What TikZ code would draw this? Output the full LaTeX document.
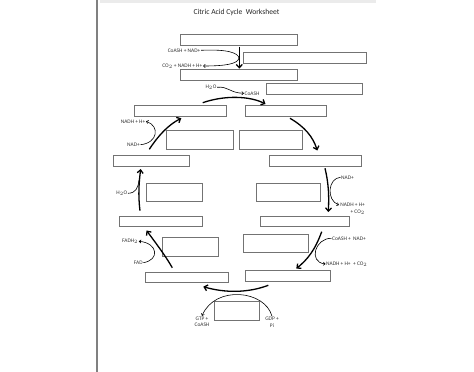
\documentclass[tikz,border=0pt]{standalone}
\usepackage{fontspec}
\setmainfont{Carlito}
\usetikzlibrary{arrows.meta}
\tikzset{
  box/.style={draw=black!55,line width=0.8pt,inner sep=0pt,outer sep=0pt,anchor=north west},
  main/.style={line width=1.3pt,-{Straight Barb[length=3.2pt,width=6pt]}},
  side/.style={line width=0.6pt,-{Straight Barb[length=1.8pt,width=3.2pt]}},
  sideplain/.style={line width=0.6pt},
  lbl/.style={font=\fontsize{5.4}{6.6}\selectfont,text=black!80,inner sep=0.5pt},
}
\newcommand\bx[5]{\node[box,minimum width=#4pt,minimum height=#5pt] (#1) at (#2,#3) {};}
\begin{document}
\begin{tikzpicture}[x=1pt,y=-1pt]
\useasboundingbox (0,0) rectangle (474,372);
\fill[white] (0,0) rectangle (474,372);
% page edge
\fill[black!8] (100,0) rectangle (376,3);
\draw[black!50,line width=1.2pt] (97,0) -- (97,372);
% title
\node[font=\fontsize{7.6}{9}\selectfont,text=black!85] (title) at (236.5,12) {Citric Acid Cycle\ \ Worksheet};
% boxes
\bx{b1}{180.7}{34}{117}{11}
\bx{b2}{243.3}{52.7}{123}{11}
\bx{b3}{180.7}{69}{117}{11}
\bx{b4}{266}{83.7}{96}{10.6}
\bx{b5}{134.3}{105.7}{92}{10.6}
\bx{b6}{245.7}{105.7}{80.6}{10.6}
\bx{b7}{166.7}{130.7}{66.6}{18.3}
\bx{b8}{239.3}{130.7}{63.4}{18.3}
\bx{b9}{113.3}{155.3}{76.4}{10.7}
\bx{b10}{269.3}{155.3}{92}{10.7}
\bx{b11}{146.3}{183}{55.7}{18.7}
\bx{b12}{256.7}{183}{63.6}{18.7}
\bx{b13}{119.7}{216}{82.6}{10.7}
\bx{b14}{260.7}{216}{89}{10.7}
\bx{b15}{162}{237.3}{56.3}{18.7}
\bx{b16}{243.3}{234.3}{64.7}{18.4}
\bx{b17}{145.7}{272}{82.3}{10.7}
\bx{b18}{245.7}{270.7}{84.6}{11}
\bx{b19}{214.7}{301.3}{44.6}{18.7}
% labels
\node[lbl,anchor=east] (t1) at (201,50.3) {CoASH + NAD+};
\node[lbl,anchor=east] (t2) at (203,66) {CO$_2$ + NADH + H+};
\node[lbl] (t3) at (211,87.3) {H$_2$O};
\node[lbl,anchor=west] (t4) at (244,93.3) {CoASH};
\node[lbl,anchor=east] (t5) at (146,121.3) {NADH + H+};
\node[lbl,anchor=east] (t6) at (140.5,144.7) {NAD+};
\node[lbl,anchor=east] (t7) at (128,193.3) {H$_2$O};
\node[lbl,anchor=west] (t8) at (340.5,177.3) {NAD+};
\node[lbl,anchor=north east,align=right] (t9) at (365.5,202.3) {NADH + H+\\+ CO$_2$};
\coordinate (t9a) at (339,205);
\node[lbl,anchor=east] (t10) at (138.8,241.3) {FADH$_2$};
\node[lbl,anchor=east] (t11) at (143.3,262.7) {FAD};
\node[lbl,anchor=west] (t12) at (331.5,238.3) {CoASH +\ \ NAD+};
\node[lbl,anchor=west] (t13) at (325.5,264) {NADH + H+\ \ + CO$_2$};
\node[lbl,align=center] (t14) at (202,321.7) {GTP +\\CoASH};
\node[lbl,align=center] (t15) at (272,322) {GDP +\\Pi};
% main arrow end points
\coordinate (a1s) at (239.3,46.5);  \coordinate (a1e) at (239.3,68.6);
\coordinate (a2s) at (202.7,102.7); \coordinate (a2e) at (265.5,104);
\coordinate (a3s) at (290,118.3);   \coordinate (a3e) at (317.3,150.5);
\coordinate (a4s) at (325,168.3);   \coordinate (a4e) at (328.3,212);
\coordinate (a5s) at (321.7,231.7); \coordinate (a5e) at (296.3,268.6);
\coordinate (a6s) at (268.3,285.3); \coordinate (a6e) at (203.3,286.7);
\coordinate (a7s) at (172.3,267.7); \coordinate (a7e) at (146.5,230.5);
\coordinate (a8s) at (140,210.7);   \coordinate (a8e) at (140.7,169);
\coordinate (a9s) at (149.3,149.3); \coordinate (a9e) at (181.3,118.2);
% main arrows
\draw[main] (a1s) -- (a1e);
\draw[main] (a2s) .. controls (225,95) and (250,96) .. (a2e);
\draw[main] (a3s) .. controls (305,127) and (313,137) .. (a3e);
\draw[main] (a4s) .. controls (329,185) and (329,198) .. (a4e);
\draw[main] (a5s) .. controls (315,250) and (308,259) .. (a5e);
\draw[main] (a6s) .. controls (248,293) and (225,293) .. (a6e);
\draw[main] (a7s) .. controls (165,255) and (155,242) .. (a7e);
\draw[main] (a8s) .. controls (138,195) and (139,182) .. (a8e);
\draw[main] (a9s) .. controls (158,136) and (168,125) .. (a9e);
% side reactions
\draw[side] (t1.east) .. controls (228,49) and (238,53) .. (239,58)
   .. controls (238,64) and (225,66) .. (t2.east);
\draw[side] (t3.east) .. controls (228,86) and (230,93) .. (t4.west);
\draw[side] (t6.east) .. controls (158,143) and (160,126) .. (t5.east);
\draw[sideplain] (t7.east) .. controls (136,193) and (138,188) .. (139,180);
\draw[side] (t8.west) .. controls (328,178) and (326,200) .. (t9a);
\draw[side] (t11.east) .. controls (160,260) and (158,243) .. (t10.east);
\draw[side] (t12.west) .. controls (315,238) and (308,262) .. (t13.west);
\draw[side] (t15.north) .. controls (265,290) and (215,285) .. (t14.north);
\end{tikzpicture}
\end{document}
